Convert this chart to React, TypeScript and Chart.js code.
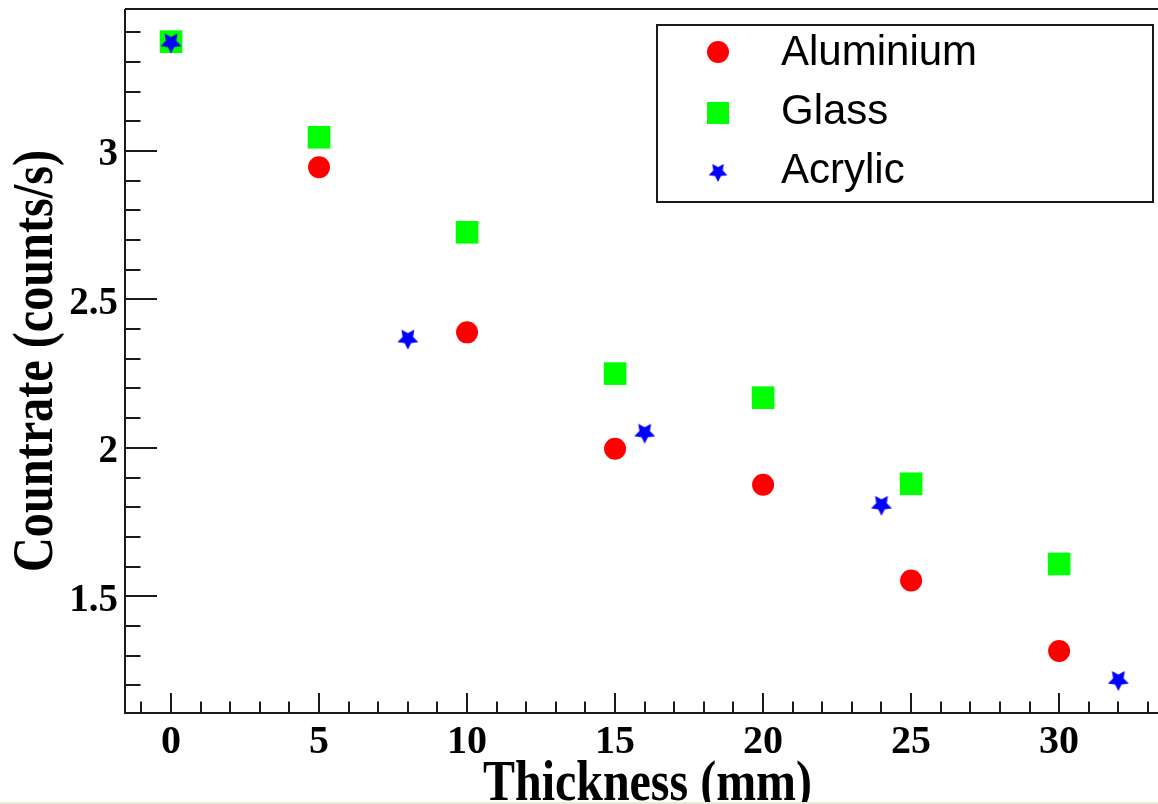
import React, { useEffect, useRef } from 'react';
import { Chart, registerables } from 'chart.js';

Chart.register(...registerables);

// ---- data ----
const thicknessMetal = [0, 5, 10, 15, 20, 25, 30];
const aluminiumRate = [3.368, 2.945, 2.389, 1.997, 1.876, 1.553, 1.316];
const glassRate = [3.368, 3.046, 2.726, 2.25, 2.169, 1.879, 1.609];
const thicknessAcrylic = [0, 8, 16, 24, 32];
const acrylicRate = [3.365, 2.368, 2.051, 1.808, 1.218];

const seriesNames = ['Aluminium', 'Glass', 'Acrylic'];
const seriesColors = ['#ff0000', '#00ff00', '#0000ff'];

const xMajorTicks = [0, 5, 10, 15, 20, 25, 30];
const yMajorTicks = [1.5, 2, 2.5, 3];
const xTitle = 'Thickness (mm)';
const yTitle = 'Countrate (counts/s)';

const X_MIN = -1.554;
const X_MAX = 33.34;
const Y_MIN = 1.107;
const Y_MAX = 3.478;

const SERIF = "'Liberation Serif', 'Times New Roman', serif";
const SANS = "'Liberation Sans', Arial, Helvetica, sans-serif";
const AXIS_COLOR = '#1a1a1a';

function makeStar(color: string, R: number): HTMLCanvasElement {
  const size = Math.ceil(R * 2 + 2);
  const c = document.createElement('canvas');
  c.width = size;
  c.height = size;
  const g = c.getContext('2d')!;
  g.fillStyle = color;
  g.beginPath();
  const cx = size / 2;
  const cy = size / 2;
  const r = R * 0.5;
  for (let i = 0; i < 10; i++) {
    const rad = i % 2 === 0 ? R : r;
    const a = Math.PI / 2 + (i * Math.PI) / 5;
    const px = cx + rad * Math.cos(a);
    const py = cy + rad * Math.sin(a);
    if (i === 0) g.moveTo(px, py);
    else g.lineTo(px, py);
  }
  g.closePath();
  g.fill();
  return c;
}

const isMajorY = (v: number) => yMajorTicks.some((m) => Math.abs(m - v) < 1e-6);

const framePlugin = {
  id: 'rootFrame',
  afterDraw(chart: any) {
    const { ctx, chartArea } = chart;
    const { left, right, top, bottom } = chartArea;
    const x = chart.scales.x;
    const y = chart.scales.y;
    ctx.save();
    ctx.strokeStyle = AXIS_COLOR;
    ctx.lineWidth = 2;
    ctx.beginPath();
    ctx.moveTo(left, top);
    ctx.lineTo(right, top);
    ctx.moveTo(left, top);
    ctx.lineTo(left, bottom);
    ctx.lineTo(right, bottom);
    x.ticks.forEach((t: any) => {
      const px = Math.round(x.getPixelForValue(t.value));
      const major = xMajorTicks.includes(t.value);
      ctx.moveTo(px, bottom);
      ctx.lineTo(px, bottom - (major ? 20 : 11.5));
    });
    y.ticks.forEach((t: any) => {
      const py = Math.round(y.getPixelForValue(t.value));
      ctx.moveTo(left, py);
      ctx.lineTo(left + (isMajorY(t.value) ? 32 : 15.5), py);
    });
    ctx.stroke();

    // tick labels
    ctx.fillStyle = '#000';
    ctx.textBaseline = 'alphabetic';
    ctx.font = `bold 40px ${SERIF}`;
    ctx.textAlign = 'center';
    x.ticks.forEach((t: any) => {
      if (!xMajorTicks.includes(t.value)) return;
      ctx.fillText(String(t.value), x.getPixelForValue(t.value), 753);
    });
    ctx.font = `bold 39px ${SERIF}`;
    ctx.textAlign = 'right';
    y.ticks.forEach((t: any) => {
      if (!isMajorY(t.value)) return;
      ctx.fillText(String(Number(t.value)), 118, y.getPixelForValue(t.value) + 14.5);
    });

    // axis titles (condensed like the original)
    ctx.font = `bold 56px ${SERIF}`;
    ctx.textAlign = 'center';
    ctx.fillText(xTitle, (left + right) / 2 + 6, 800, 329);
    ctx.save();
    ctx.translate(52, (top + bottom) / 2);
    ctx.rotate(-Math.PI / 2);
    ctx.fillText(yTitle, 0, 0, 422);
    ctx.restore();

    // legend
    const bx = 657, by = 25, bw = 496, bh = 177;
    ctx.fillStyle = '#fff';
    ctx.fillRect(bx, by, bw, bh);
    ctx.strokeStyle = AXIS_COLOR;
    ctx.lineWidth = 2;
    ctx.strokeRect(bx, by, bw, bh);
    const rowsY = [52, 113, 172];
    const baseY = [65, 124, 183];
    chart.data.datasets.forEach((ds: any, i: number) => {
      const mx = 718;
      const my = rowsY[i];
      ctx.fillStyle = ds.backgroundColor;
      if (ds.pointStyle === 'circle') {
        ctx.beginPath();
        ctx.arc(mx, my, 11, 0, Math.PI * 2);
        ctx.fill();
      } else if (ds.pointStyle === 'rect') {
        ctx.fillRect(mx - 11, my - 11, 22, 22);
      } else if (ds.pointStyle instanceof HTMLCanvasElement) {
        const img = ds.pointStyle;
        const s = 0.9;
        ctx.drawImage(img, mx - (img.width * s) / 2, my - (img.height * s) / 2, img.width * s, img.height * s);
      }
      ctx.fillStyle = '#000';
      ctx.font = `42px ${SANS}`;
      ctx.textAlign = 'left';
      ctx.textBaseline = 'alphabetic';
      ctx.fillText(ds.label, 781, baseY[i]);
    });

    // faint strip at bottom of screenshot
    ctx.fillStyle = '#e8e9df';
    ctx.fillRect(0, 802, chart.width, 2);
    ctx.restore();
  },
};

export default function App() {
  const ref = useRef<HTMLCanvasElement | null>(null);

  useEffect(() => {
    if (!ref.current) return;
    const star = makeStar(seriesColors[2], 11);
    const xTicks: number[] = [];
    for (let v = Math.ceil(X_MIN); v <= Math.floor(X_MAX); v++) xTicks.push(v);
    const yTicks: number[] = [];
    for (let k = Math.ceil(Y_MIN * 10); k <= Math.floor(Y_MAX * 10); k++) yTicks.push(k / 10);

    const chart = new Chart(ref.current, {
      type: 'scatter',
      data: {
        datasets: [
          {
            label: seriesNames[0],
            data: thicknessMetal.map((x, i) => ({ x, y: aluminiumRate[i] })),
            pointStyle: 'circle',
            pointRadius: 11,
            backgroundColor: seriesColors[0],
            borderColor: seriesColors[0],
            borderWidth: 0,
            order: 3,
          },
          {
            label: seriesNames[1],
            data: thicknessMetal.map((x, i) => ({ x, y: glassRate[i] })),
            pointStyle: 'rect',
            pointRadius: 16,
            backgroundColor: seriesColors[1],
            borderColor: seriesColors[1],
            borderWidth: 0,
            order: 2,
          },
          {
            label: seriesNames[2],
            data: thicknessAcrylic.map((x, i) => ({ x, y: acrylicRate[i] })),
            pointStyle: star as any,
            pointRadius: 11,
            backgroundColor: seriesColors[2],
            borderColor: seriesColors[2],
            borderWidth: 0,
            order: 1,
          },
        ],
      },
      options: {
        responsive: false,
        animation: false,
        layout: { autoPadding: false, padding: { top: 9, left: 0, right: 0, bottom: 0 } },
        plugins: {
          legend: { display: false },
          tooltip: { enabled: false },
        },
        scales: {
          x: {
            type: 'linear',
            min: X_MIN,
            max: X_MAX,
            grid: { display: false, drawTicks: false },
            border: { display: false },
            title: { display: false, text: xTitle },
            ticks: { display: false, autoSkip: false },
            afterBuildTicks: (s: any) => {
              s.ticks = xTicks.map((value) => ({ value }));
            },
            afterFit: (s: any) => {
              s.height = 91;
            },
          },
          y: {
            type: 'linear',
            min: Y_MIN,
            max: Y_MAX,
            grid: { display: false, drawTicks: false },
            border: { display: false },
            title: { display: false, text: yTitle },
            ticks: { display: false, autoSkip: false },
            afterBuildTicks: (s: any) => {
              s.ticks = yTicks.map((value) => ({ value }));
            },
            afterFit: (s: any) => {
              s.width = 125;
            },
          },
        },
      },
      plugins: [framePlugin],
    });
    return () => chart.destroy();
  }, []);

  return (
    <div style={{ position: 'fixed', left: 0, top: 0, width: 1158, height: 804, background: '#fff' }}>
      <canvas ref={ref} width={1158} height={804} style={{ display: 'block' }} />
    </div>
  );
}
